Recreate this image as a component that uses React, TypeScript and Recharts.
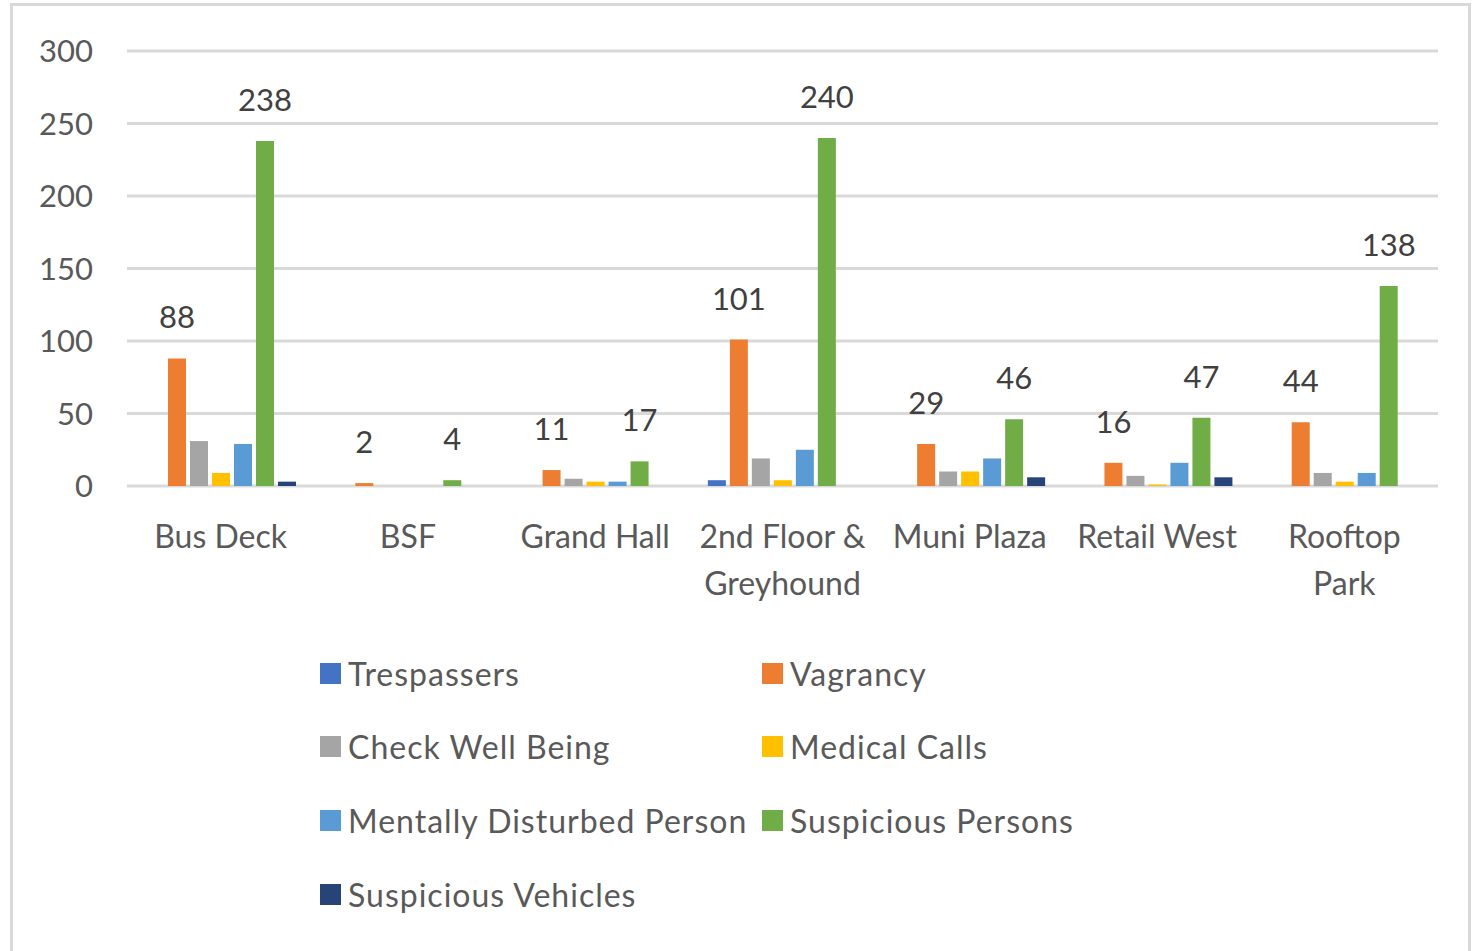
import React from "react";
import { BarChart, Bar, XAxis, YAxis, CartesianGrid, LabelList } from "recharts";

const categories = [
  "Bus Deck",
  "BSF",
  "Grand Hall",
  "2nd Floor & Greyhound",
  "Muni Plaza",
  "Retail West",
  "Rooftop Park",
];
const tickLines = [
  ["Bus Deck"],
  ["BSF"],
  ["Grand Hall"],
  ["2nd Floor &", "Greyhound"],
  ["Muni Plaza"],
  ["Retail West"],
  ["Rooftop", "Park"],
];

const trespassers = [0, 0, 0, 4, 0, 0, 0];
const vagrancy = [88, 2, 11, 101, 29, 16, 44];
const checkWellBeing = [31, 0, 5, 19, 10, 7, 9];
const medicalCalls = [9, 0, 3, 4, 10, 1, 3];
const mentallyDisturbed = [29, 0, 3, 25, 19, 16, 9];
const suspiciousPersons = [238, 4, 17, 240, 46, 47, 138];
const suspiciousVehicles = [3, 0, 0, 0, 6, 6, 0];

const yTicks = [0, 50, 100, 150, 200, 250, 300];

const series = [
  { key: "trespassers", name: "Trespassers", color: "#4472C4", values: trespassers, label: false },
  { key: "vagrancy", name: "Vagrancy", color: "#ED7D31", values: vagrancy, label: true },
  { key: "checkWellBeing", name: "Check Well Being", color: "#A5A5A5", values: checkWellBeing, label: false },
  { key: "medicalCalls", name: "Medical Calls", color: "#FFC000", values: medicalCalls, label: false },
  { key: "mentallyDisturbed", name: "Mentally Disturbed Person", color: "#5B9BD5", values: mentallyDisturbed, label: false },
  { key: "suspiciousPersons", name: "Suspicious Persons", color: "#70AD47", values: suspiciousPersons, label: true },
  { key: "suspiciousVehicles", name: "Suspicious Vehicles", color: "#264478", values: suspiciousVehicles, label: false },
];

const data = categories.map((name, i) => {
  const row: Record<string, any> = { name, idx: i };
  series.forEach((s) => {
    row[s.key] = s.values[i];
  });
  return row;
});

const FONT = "Lato, 'Open Sans', sans-serif";
const TEXT = "#595959";

function CategoryTick(props: any) {
  const { x, y, index } = props;
  const lines = tickLines[index] ?? [String(props.payload.value)];
  return (
    <text x={x} y={y + 62} textAnchor="middle" fill={TEXT} fontSize={32} fontFamily={FONT}>
      {lines.map((l, i) => (
        <tspan key={i} x={x} dy={i === 0 ? 0 : 47}>
          {l}
        </tspan>
      ))}
    </text>
  );
}

function ValueLabel(props: any) {
  const { x, y, width, value } = props;
  if (!value) return null;
  return (
    <text x={x + width / 2} y={y - 30} textAnchor="middle" fill="#404040" fontSize={31} fontFamily={FONT}>
      {value}
    </text>
  );
}

export default function App() {
  return (
    <div
      style={{
        position: "absolute",
        left: 0,
        top: 0,
        width: 1472,
        height: 951,
        background: "#fff",
        overflow: "hidden",
        fontFamily: FONT,
      }}
    >
      <div
        style={{
          position: "absolute",
          left: 10,
          top: 3,
          width: 1455,
          height: 960,
          border: "3px solid #d9d9d9",
        }}
      />
      <div style={{ position: "absolute", left: 0, top: 0 }}>
        <BarChart
          width={1472}
          height={640}
          data={data}
          margin={{ top: 51, right: 34, left: 0, bottom: 0 }}
          barSize={18}
          barGap={4}
        >
          <CartesianGrid vertical={false} stroke="#d9d9d9" strokeWidth={3} />
          <XAxis
            dataKey="name"
            axisLine={false}
            tickLine={false}
            tickSize={0}
            tickMargin={0}
            height={154}
            interval={0}
            tick={<CategoryTick />}
          />
          <YAxis
            width={127}
            domain={[0, 300]}
            ticks={yTicks}
            axisLine={false}
            tickLine={false}
            tickSize={0}
            tickMargin={34}
            tick={{ fill: TEXT, fontSize: 31, fontFamily: FONT }}
          />
          {series.map((s) => (
            <Bar key={s.key} dataKey={s.key} name={s.name} fill={s.color} isAnimationActive={false}>
              {s.label && <LabelList dataKey={s.key} content={<ValueLabel />} />}
            </Bar>
          ))}
        </BarChart>
      </div>
      {series.map((s, i) => {
        const col = i % 2;
        const row = Math.floor(i / 2);
        const left = col === 0 ? 320 : 762;
        const cy = 673 + row * 73.7;
        return (
          <div
            key={s.key}
            style={{
              position: "absolute",
              left,
              top: cy - 20,
              height: 40,
              display: "flex",
              alignItems: "center",
              whiteSpace: "nowrap",
            }}
          >
            <span style={{ display: "inline-block", width: 21, height: 21, background: s.color, marginRight: 7 }} />
            <span style={{ fontSize: 32, letterSpacing: 1, color: TEXT, fontFamily: FONT }}>{s.name}</span>
          </div>
        );
      })}
    </div>
  );
}
